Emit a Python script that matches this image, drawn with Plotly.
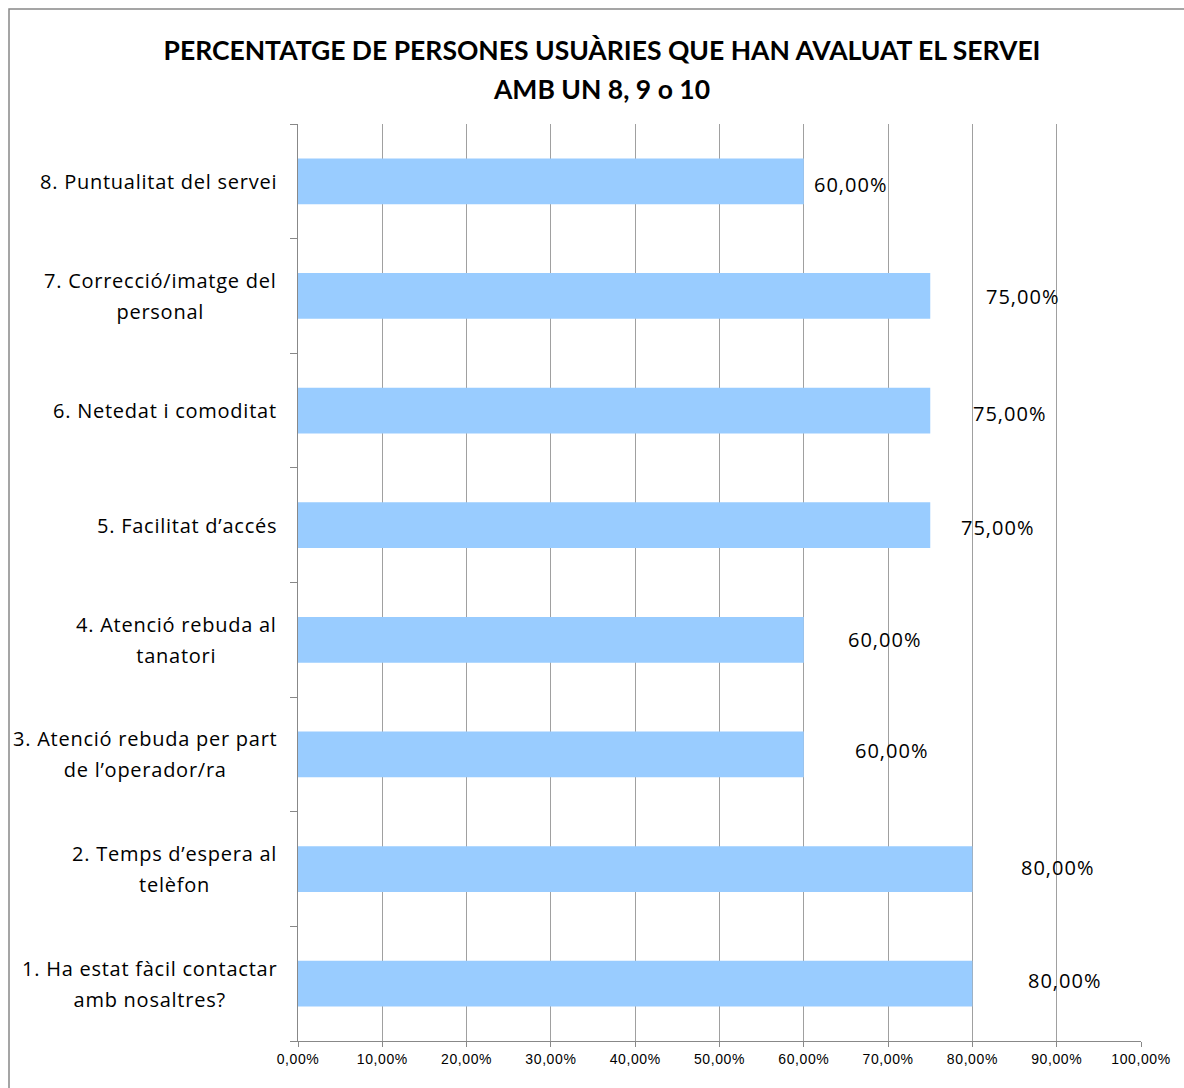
import plotly.graph_objects as go

categories = [
    "1. Ha estat fàcil contactar<br>amb nosaltres?",
    "2. Temps d’espera al<br>telèfon",
    "3. Atenció rebuda per part<br>de l’operador/ra",
    "4. Atenció rebuda al<br>tanatori",
    "5. Facilitat d’accés",
    "6. Netedat i comoditat",
    "7. Correcció/imatge del<br>personal",
    "8. Puntualitat del servei",
]
values = [80, 80, 60, 60, 75, 75, 75, 60]
tick_vals = [0, 10, 20, 30, 40, 50, 60, 70, 80, 90, 100]
tick_text = ["0,00%", "10,00%", "20,00%", "30,00%", "40,00%", "50,00%",
             "60,00%", "70,00%", "80,00%", "90,00%", "100,00%"]
title_lines = ["PERCENTATGE DE PERSONES USUÀRIES QUE HAN AVALUAT EL SERVEI",
               "AMB UN 8, 9 o 10"]

# label pixel offsets (style: reproduces manually moved labels)
label_shift = [54, 47, 49, 42, 29, 41, 54, 8]
label_vshift = [3, 2, 4, 0, -2, -3, -1, -3]

W, H = 1184, 1088
L, R, T, B = 298, 43, 124, 47
pw, ph = W - L - R, H - T - B

fig = go.Figure()
fig.add_trace(go.Bar(
    x=values, y=categories, orientation="h",
    marker=dict(color="#99CCFF", line=dict(width=0)),
    hoverinfo="skip",
))

font_title = "Lato, 'Open Sans', sans-serif"
font_cat = "'Open Sans', Lato, sans-serif"


def styled(text, size, spacing):
    return "<br>".join(
        f"<span style='font-size:{size}px;letter-spacing:{spacing}px'>{ln}</span>"
        for ln in text.split("<br>")
    )


annotations = []
for c, v, s, vs in zip(categories, values, label_shift, label_vshift):
    annotations.append(dict(
        x=v, y=c, xref="x", yref="y", xanchor="left", yanchor="middle",
        xshift=s, yshift=vs, showarrow=False,
        text=styled(f"{v:.2f}".replace(".", ",") + "%", 20, 1),
        font=dict(family=font_cat, size=20, color="#000000"),
    ))
    annotations.append(dict(
        x=0, y=c, xref="paper", yref="y", xanchor="right", yanchor="middle",
        xshift=-19, showarrow=False, align="center",
        text=styled(c, 20, 0.75),
        font=dict(family=font_cat, size=24, color="#000000"),
    ))

shapes = [dict(
    type="rect", xref="paper", yref="paper",
    x0=(9 - L) / pw, x1=(1195 - L) / pw,
    y0=1 - (1100 - T) / ph, y1=1 + (T - 9) / ph,
    line=dict(color="#888888", width=1.5), fillcolor="rgba(0,0,0,0)", layer="below",
)]

fig.update_layout(
    width=W, height=H,
    margin=dict(l=L, r=R, t=T, b=B, pad=0),
    paper_bgcolor="white", plot_bgcolor="white",
    showlegend=False,
    bargap=0.6,
    title=dict(
        text="<b>" + styled("<br>".join(title_lines), 26.5, 0) + "</b>",
        x=602 / W, xanchor="center", xref="container",
        y=1 - 60 / H, yanchor="middle", yref="container",
        font=dict(family=font_title, size=30, color="#000000"),
    ),
    xaxis=dict(
        range=[0, 100], tickvals=tick_vals,
        ticktext=[styled(t, 14, 0.6) for t in tick_text],
        showgrid=True, gridcolor="#A0A0A0", gridwidth=1,
        showline=True, linecolor="#888888", linewidth=1,
        ticks="outside", ticklen=5, tickcolor="#888888",
        tickfont=dict(family="'Liberation Sans', Arial, sans-serif", size=14, color="#000000"),
        zeroline=False, fixedrange=True,
    ),
    yaxis=dict(
        showticklabels=False,
        tickson="boundaries",
        ticks="outside", ticklen=7, tickcolor="#888888",
        showline=True, linecolor="#888888", linewidth=1,
        showgrid=False, zeroline=False, fixedrange=True,
    ),
    annotations=annotations,
    shapes=shapes,
)

fig.write_html("out.html")
